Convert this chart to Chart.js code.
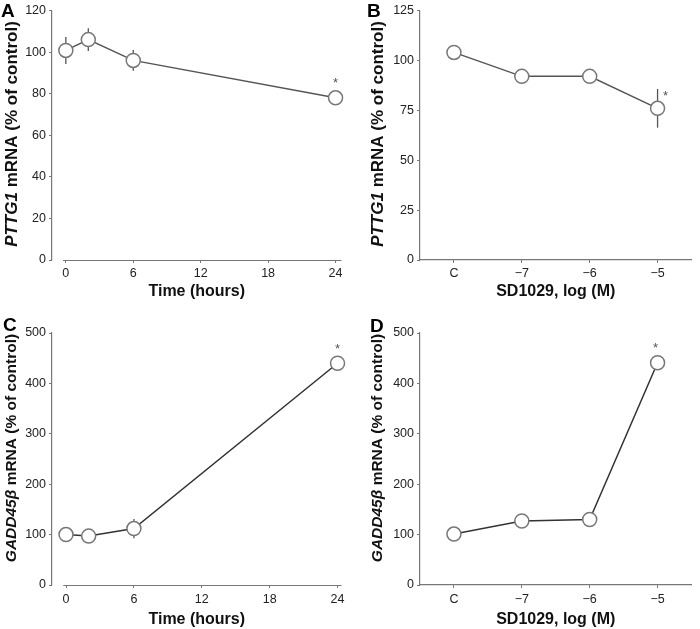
<!DOCTYPE html>
<html>
<head>
<meta charset="utf-8">
<script src="https://cdn.jsdelivr.net/npm/chart.js@4.4.0/dist/chart.umd.min.js"></script>
<style>
  body { margin: 0; background: #fff; }
  #wrap { position: relative; width: 700px; height: 629px; }
  canvas { position: absolute; }
</style>
</head>
<body>
<div id="wrap">
  <canvas id="chartA" width="350" height="310" style="left:0;top:0"></canvas>
  <canvas id="chartB" width="350" height="310" style="left:350px;top:0"></canvas>
  <canvas id="chartC" width="350" height="319" style="left:0;top:310px"></canvas>
  <canvas id="chartD" width="350" height="319" style="left:350px;top:310px"></canvas>
</div>
<script>
// x values / categories
const timeHours = [0, 2, 6, 24];
const timeTicks = [0, 6, 12, 18, 24];
const doseLabels = ['C', '\u22127', '\u22126', '\u22125'];

// PTTG1 mRNA (% of control)
const pttg1Time = [100.8, 106, 96, 78];
const pttg1TimeErr = [6.5, 5.5, 5, 0];
const pttg1TimeSig = [false, false, false, true];
const pttg1Dose = [104, 92, 92, 76];
const pttg1DoseErr = [0, 0, 0, 9.7];
const pttg1DoseSig = [false, false, false, true];

// GADD45beta mRNA (% of control)
const gaddTime = [100, 97, 112, 440];
const gaddTimeErr = [0, 0, 19, 0];
const gaddTimeSig = [false, false, false, true];
const gaddDose = [101, 127, 130, 441];
const gaddDoseErr = [0, 0, 0, 0];
const gaddDoseSig = [false, false, false, true];

// y tick values
const pttg1TimeTicks = [0, 20, 40, 60, 80, 100, 120];
const pttg1DoseTicks = [0, 25, 50, 75, 100, 125];
const gaddTicks = [0, 100, 200, 300, 400, 500];

Chart.defaults.font.family = '"Liberation Sans", Arial, sans-serif';
Chart.defaults.color = '#222';

const FONT = '"Liberation Sans", Arial, sans-serif';

// error bars, stars, panel letter, y title with italic gene name, short x axis line
const panelExtras = {
    id: 'panelExtras',
    beforeDatasetsDraw(chart, args, o) {
        const ctx = chart.ctx;
        const meta = chart.getDatasetMeta(0);
        const yScale = chart.scales.y;
        ctx.save();
        ctx.strokeStyle = '#555';
        ctx.lineWidth = 1.3;
        o.errors.forEach((err, i) => {
            if (!err) return;
            const v = chart.data.datasets[0].data[i];
            const val = typeof v === 'object' ? v.y : v;
            const x = meta.data[i].x;
            ctx.beginPath();
            ctx.moveTo(x, yScale.getPixelForValue(val + err));
            ctx.lineTo(x, yScale.getPixelForValue(val - err));
            ctx.stroke();
        });
        ctx.restore();
    },
    afterDraw(chart, args, o) {
        const ctx = chart.ctx;
        const meta = chart.getDatasetMeta(0);
        const area = chart.chartArea;
        ctx.save();

        // x axis line starting at the first value
        if (o.axisFrom !== undefined) {
            const xs = chart.scales.x;
            ctx.strokeStyle = '#777';
            ctx.lineWidth = 1.2;
            ctx.beginPath();
            ctx.moveTo(xs.getPixelForValue(o.axisFrom), area.bottom + 0.5);
            ctx.lineTo(area.right, area.bottom + 0.5);
            ctx.stroke();
        }

        // significance stars
        ctx.fillStyle = '#555';
        ctx.font = '13px ' + FONT;
        ctx.textAlign = 'center';
        ctx.textBaseline = 'middle';
        o.stars.forEach((s, i) => {
            if (!s) return;
            const p = meta.data[i];
            ctx.fillText('*', p.x + o.starDx, p.y + o.starDy);
        });

        // panel letter
        ctx.fillStyle = '#000';
        ctx.font = 'bold 19px ' + FONT;
        ctx.textAlign = 'left';
        ctx.textBaseline = 'top';
        ctx.fillText(o.letter, o.letterX, o.letterY);

        // rotated y title
        ctx.translate(o.titleX, o.titleY);
        ctx.rotate(-Math.PI / 2);
        ctx.textBaseline = 'middle';
        let total = 0;
        const parts = o.titleParts.map(p => {
            ctx.font = (p.italic ? 'italic ' : '') + 'bold ' + o.titleSize + 'px ' + FONT;
            const w = ctx.measureText(p.text).width;
            total += w;
            return { text: p.text, font: ctx.font, w: w };
        });
        let x = -total / 2;
        ctx.fillStyle = '#111';
        parts.forEach(p => {
            ctx.font = p.font;
            ctx.fillText(p.text, x, 0);
            x += p.w;
        });
        ctx.restore();
    }
};

function yAxis(ticks, width) {
    return {
        min: ticks[0],
        max: ticks[ticks.length - 1],
        afterBuildTicks: s => { s.ticks = ticks.map(v => ({ value: v })); },
        afterFit: s => { s.width = width; },
        ticks: { font: { size: 12.5 }, color: '#222', padding: 3 },
        grid: { drawOnChartArea: false, drawTicks: true, tickLength: 3, color: '#777' },
        border: { display: true, color: '#777', width: 1.2 }
    };
}

function timeAxis(min, max, height, tickPad, titlePad) {
    return {
        type: 'linear',
        min: min,
        max: max,
        afterBuildTicks: s => { s.ticks = timeTicks.map(v => ({ value: v })); },
        afterFit: s => { s.height = height; },
        ticks: { font: { size: 12.5 }, color: '#222', padding: tickPad },
        grid: { drawOnChartArea: false, drawTicks: true, tickLength: 3, color: '#777' },
        border: { display: false },
        title: { display: true, text: 'Time (hours)', color: '#111', font: { size: 16, weight: 'bold' }, padding: { top: 0, bottom: titlePad } }
    };
}

function doseAxis(height, tickPad, titlePad) {
    return {
        type: 'category',
        offset: true,
        afterFit: s => { s.height = height; },
        ticks: { font: { size: 12.5 }, color: '#222', padding: tickPad },
        grid: { offset: false, drawOnChartArea: false, drawTicks: true, tickLength: 3, color: '#777' },
        border: { display: true, color: '#777', width: 1.2 },
        title: { display: true, text: 'SD1029, log (M)', color: '#111', font: { size: 16, weight: 'bold' }, padding: { top: 0, bottom: titlePad } }
    };
}

function lineSet(data, lineColor) {
    return {
        data: data,
        borderColor: lineColor,
        borderWidth: 1.5,
        pointRadius: 7,
        pointBackgroundColor: '#fff',
        pointBorderColor: '#777',
        pointBorderWidth: 1.5,
        tension: 0,
        clip: false
    };
}

function makeChart(id, cfg) {
    return new Chart(document.getElementById(id), {
        type: 'line',
        data: cfg.data,
        options: {
            responsive: false,
            animation: false,
            devicePixelRatio: 1,
            layout: { padding: cfg.padding },
            plugins: { legend: { display: false }, tooltip: { enabled: false }, panelExtras: cfg.extras },
            scales: { x: cfg.x, y: cfg.y }
        },
        plugins: [panelExtras]
    });
}

const pttgTitle = [{ text: 'PTTG1', italic: true }, { text: ' mRNA (% of control)' }];
const gaddTitle = [{ text: 'GADD45\u03B2', italic: true }, { text: ' mRNA (% of control)' }];

makeChart('chartA', {
    data: { datasets: [lineSet(timeHours.map((t, i) => ({ x: t, y: pttg1Time[i] })), '#555')] },
    padding: { top: 10, right: 4, left: 0, bottom: 0 },
    x: timeAxis(-1.23, 24.53, 50, 3, 9),
    y: yAxis(pttg1TimeTicks, 52),
    extras: { errors: pttg1TimeErr, stars: pttg1TimeSig, starDx: 0, starDy: -14, letter: 'A', letterX: 1, letterY: 2,
              titleParts: pttgTitle, titleSize: 17, titleX: 12, titleY: 134, axisFrom: -0.25 }
});

makeChart('chartB', {
    data: { labels: doseLabels, datasets: [lineSet(pttg1Dose, '#555')] },
    padding: { top: 10, right: 0, left: 0, bottom: 0 },
    x: doseAxis(50, 3, 9),
    y: yAxis(pttg1DoseTicks, 70),
    extras: { errors: pttg1DoseErr, stars: pttg1DoseSig, starDx: 8, starDy: -12, letter: 'B', letterX: 17, letterY: 2,
              titleParts: pttgTitle, titleSize: 17, titleX: 28, titleY: 134 }
});

makeChart('chartC', {
    data: { datasets: [lineSet(timeHours.map((t, i) => ({ x: t, y: gaddTime[i] })), '#333')] },
    padding: { top: 23, right: 8, left: 0, bottom: 0 },
    x: timeAxis(-1.24, 24.35, 44, 4, 0),
    y: yAxis(gaddTicks, 52),
    extras: { errors: gaddTimeErr, stars: gaddTimeSig, starDx: 0, starDy: -14, letter: 'C', letterX: 3, letterY: 6,
              titleParts: gaddTitle, titleSize: 15.5, titleX: 12, titleY: 138, axisFrom: -0.25 }
});

makeChart('chartD', {
    data: { labels: doseLabels, datasets: [lineSet(gaddDose, '#333')] },
    padding: { top: 23, right: 0, left: 0, bottom: 0 },
    x: doseAxis(44, 4, 0),
    y: yAxis(gaddTicks, 70),
    extras: { errors: gaddDoseErr, stars: gaddDoseSig, starDx: -2, starDy: -14, letter: 'D', letterX: 20, letterY: 7,
              titleParts: gaddTitle, titleSize: 15.5, titleX: 28, titleY: 138 }
});
</script>
</body>
</html>
